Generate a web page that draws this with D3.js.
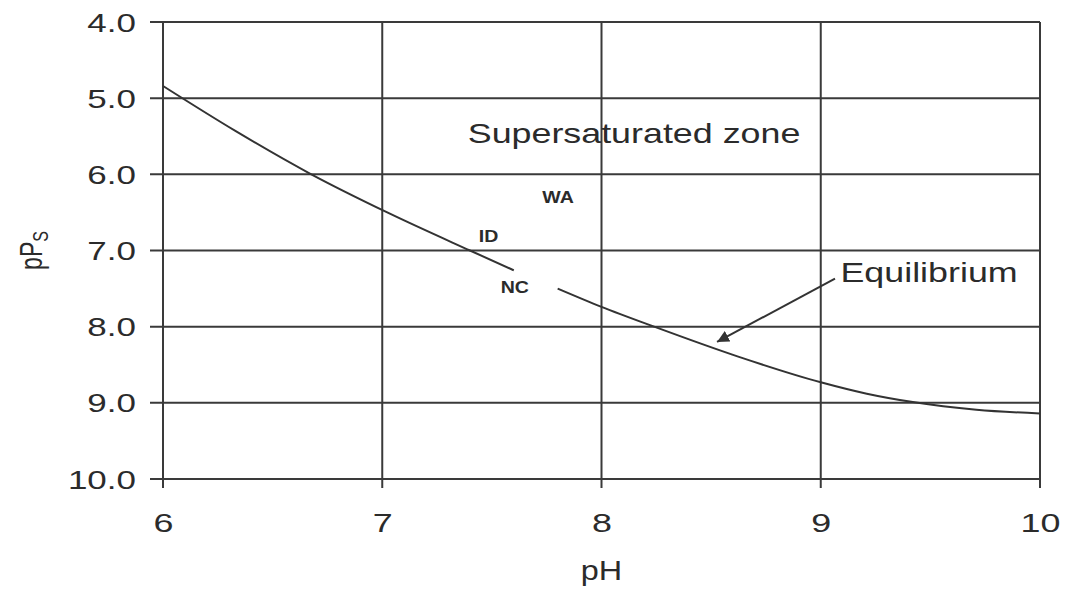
<!DOCTYPE html>
<html>
<meta charset="utf-8">
<script src="https://d3js.org/d3.v7.min.js"></script>
<style>
    body { margin: 0; background: #fff; }
    text { font-family: "Liberation Sans", Arial, sans-serif; fill: #2b2b2b; }
    .stretch { transform-box: fill-box; }
</style>
<body>
    <svg width="1065" height="591"></svg>
    <script>
        // axis ticks
        const phTicks = [6, 7, 8, 9, 10];
        const psTicks = [4, 5, 6, 7, 8, 9, 10];

        // equilibrium curve (null = gap in the drawn line near NC)
        const curvePH = [6.0, 6.33, 6.67, 7.03, 7.4, 7.6, 7.7, 7.8, 8.0, 8.24, 8.62, 9.0, 9.21, 9.42, 9.71, 10.0];
        const curvePS = [4.84, 5.43, 5.99, 6.51, 7.0, 7.26, null, 7.5, 7.74, 8.0, 8.39, 8.73, 8.88, 8.99, 9.09, 9.14];

        // text annotations
        const labelText = ["Supersaturated zone", "WA", "ID", "NC", "Equilibrium"];
        const labelPH = [7.39, 7.73, 7.44, 7.54, 9.09];
        const labelPS = [5.59, 6.38, 6.89, 7.56, 7.41];
        const labelSize = [28, 17, 17, 17, 28];

        // arrow pointing at the curve
        const arrowPH = [9.065, 8.527];
        const arrowPS = [7.37, 8.20];

        let svg = d3.select("svg"),
            margin = { top: 22, right: 25, bottom: 112, left: 163 },
            width = +svg.attr("width") - margin.left - margin.right,
            height = +svg.attr("height") - margin.top - margin.bottom;

        let x = d3.scaleLinear().domain([6, 10]).range([0, width]),
            y = d3.scaleLinear().domain([4, 10]).range([0, height]);

        let g = svg.append("g").attr("transform", `translate(${margin.left},${margin.top})`);
        const ink = "#3a3a3a";

        // grid, with the little overhang that acts as tick marks
        g.selectAll("line.vgrid")
            .data(phTicks)
            .enter().append("line")
            .attr("class", "vgrid")
            .attr("x1", d => x(d)).attr("x2", d => x(d))
            .attr("y1", 0).attr("y2", height + 9)
            .style("stroke", ink).style("stroke-width", 2);

        g.selectAll("line.hgrid")
            .data(psTicks)
            .enter().append("line")
            .attr("class", "hgrid")
            .attr("x1", -13).attr("x2", width)
            .attr("y1", d => y(d)).attr("y2", d => y(d))
            .style("stroke", ink).style("stroke-width", 2);

        // tick labels via axes (lines hidden, grid above does that)
        let xAxis = d3.axisBottom(x).tickValues(phTicks).tickSize(0).tickPadding(53).tickFormat(d3.format("d"));
        let yAxis = d3.axisLeft(y).tickValues(psTicks).tickSize(0).tickPadding(27).tickFormat(d3.format(".1f"));

        let gx = g.append("g").attr("transform", `translate(0,${height})`).call(xAxis);
        let gy = g.append("g").call(yAxis);
        [gx, gy].forEach(a => a.select(".domain").remove());

        gx.selectAll("text")
            .attr("dy", 0)
            .style("font-size", "26px").style("fill", "#2b2b2b")
            .attr("class", "stretch")
            .style("transform-origin", "center").style("transform", "scaleX(1.38)");
        gy.selectAll("text")
            .attr("dy", "0.36em")
            .style("font-size", "25px").style("fill", "#2b2b2b")
            .attr("class", "stretch")
            .style("transform-origin", "right center").style("transform", "scaleX(1.4)");

        // axis titles
        g.append("text")
            .attr("x", width / 2).attr("y", height + 101)
            .attr("text-anchor", "middle")
            .style("font-size", "27px")
            .attr("class", "stretch")
            .style("transform-origin", "center").style("transform", "scaleX(1.2)")
            .text("pH");

        let yt = g.append("text")
            .attr("transform", `translate(${-121},${height / 2}) rotate(-90) scale(1,1.4)`)
            .attr("text-anchor", "middle")
            .style("font-size", "23px");
        yt.append("tspan").text("pP");
        yt.append("tspan").attr("dy", 4).style("font-size", "16px").text("S");

        // equilibrium curve
        let line = d3.line()
            .defined(i => curvePS[i] !== null)
            .x(i => x(curvePH[i]))
            .y(i => y(curvePS[i]))
            .curve(d3.curveMonotoneX);

        g.append("path")
            .datum(d3.range(curvePH.length))
            .attr("d", line)
            .style("fill", "none").style("stroke", "#333").style("stroke-width", 2);

        // arrow
        svg.append("defs").append("marker")
            .attr("id", "head")
            .attr("viewBox", "0 0 10 10")
            .attr("refX", 10).attr("refY", 5)
            .attr("markerWidth", 6).attr("markerHeight", 6)
            .attr("markerUnits", "strokeWidth")
            .attr("orient", "auto")
            .append("path").attr("d", "M0,0 L10,5 L0,10 z").style("fill", "#333");

        g.append("line")
            .attr("x1", x(arrowPH[0])).attr("y1", y(arrowPS[0]))
            .attr("x2", x(arrowPH[1])).attr("y2", y(arrowPS[1]))
            .style("stroke", "#333").style("stroke-width", 2)
            .attr("marker-end", "url(#head)");

        // annotations
        g.selectAll("text.note")
            .data(labelText)
            .enter().append("text")
            .attr("class", "note stretch")
            .attr("x", (d, i) => x(labelPH[i]))
            .attr("y", (d, i) => y(labelPS[i]))
            .style("font-size", (d, i) => labelSize[i] + "px")
            .style("font-weight", (d, i) => labelSize[i] < 20 ? "bold" : "normal")
            .style("transform-origin", "left center")
            .style("transform", (d, i) => labelSize[i] < 20 ? "scaleX(1.15)" : "scaleX(1.28)")
            .text(d => d);
    </script>
</body>
</html>
